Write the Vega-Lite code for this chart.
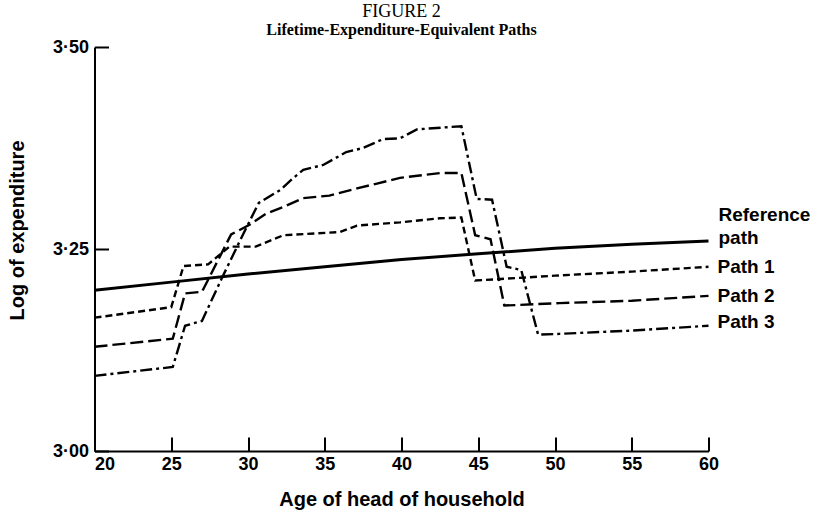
{
  "$schema": "https://vega.github.io/schema/vega-lite/v6.json",
  "width": 614,
  "height": 404,
  "autosize": {"type": "none"},
  "padding": {"left": 94.5, "top": 47, "right": 110.5, "bottom": 65},
  "background": "white",
  "config": {"view": {"stroke": null}, "font": "Liberation Sans"},
  "title": {
    "text": "FIGURE 2",
    "subtitle": "Lifetime-Expenditure-Equivalent Paths",
    "font": "Liberation Serif",
    "fontSize": 18,
    "fontWeight": "normal",
    "color": "black",
    "subtitleFont": "Liberation Serif",
    "subtitleFontSize": 16,
    "subtitleFontWeight": "bold",
    "subtitleColor": "black",
    "subtitlePadding": 1,
    "anchor": "middle",
    "offset": 0
  },
  "data": {
    "values": [
      {"series": "Reference", "age": 20, "value": 3.199},
      {"series": "Reference", "age": 25, "value": 3.209},
      {"series": "Reference", "age": 30, "value": 3.219},
      {"series": "Reference", "age": 35, "value": 3.228},
      {"series": "Reference", "age": 40, "value": 3.237},
      {"series": "Reference", "age": 45, "value": 3.244},
      {"series": "Reference", "age": 50, "value": 3.251},
      {"series": "Reference", "age": 55, "value": 3.256},
      {"series": "Reference", "age": 60, "value": 3.26},

      {"series": "Path 1", "age": 20, "value": 3.165},
      {"series": "Path 1", "age": 25, "value": 3.178},
      {"series": "Path 1", "age": 25.8, "value": 3.229},
      {"series": "Path 1", "age": 27.4, "value": 3.231},
      {"series": "Path 1", "age": 28.8, "value": 3.253},
      {"series": "Path 1", "age": 30.5, "value": 3.253},
      {"series": "Path 1", "age": 32.3, "value": 3.267},
      {"series": "Path 1", "age": 36.0, "value": 3.271},
      {"series": "Path 1", "age": 37.1, "value": 3.279},
      {"series": "Path 1", "age": 39.9, "value": 3.283},
      {"series": "Path 1", "age": 42.5, "value": 3.288},
      {"series": "Path 1", "age": 43.9, "value": 3.289},
      {"series": "Path 1", "age": 44.8, "value": 3.211},
      {"series": "Path 1", "age": 50, "value": 3.217},
      {"series": "Path 1", "age": 55, "value": 3.222},
      {"series": "Path 1", "age": 60, "value": 3.228},

      {"series": "Path 2", "age": 20, "value": 3.129},
      {"series": "Path 2", "age": 25.1, "value": 3.139},
      {"series": "Path 2", "age": 25.9, "value": 3.195},
      {"series": "Path 2", "age": 27.0, "value": 3.197},
      {"series": "Path 2", "age": 28.9, "value": 3.268},
      {"series": "Path 2", "age": 30.1, "value": 3.28},
      {"series": "Path 2", "age": 31.2, "value": 3.294},
      {"series": "Path 2", "age": 32.3, "value": 3.302},
      {"series": "Path 2", "age": 33.6, "value": 3.313},
      {"series": "Path 2", "age": 35.3, "value": 3.316},
      {"series": "Path 2", "age": 37.1, "value": 3.325},
      {"series": "Path 2", "age": 38.4, "value": 3.331},
      {"series": "Path 2", "age": 39.9, "value": 3.338},
      {"series": "Path 2", "age": 42.5, "value": 3.344},
      {"series": "Path 2", "age": 43.9, "value": 3.344},
      {"series": "Path 2", "age": 44.8, "value": 3.267},
      {"series": "Path 2", "age": 45.8, "value": 3.262},
      {"series": "Path 2", "age": 46.7, "value": 3.18},
      {"series": "Path 2", "age": 50.3, "value": 3.183},
      {"series": "Path 2", "age": 55, "value": 3.186},
      {"series": "Path 2", "age": 60, "value": 3.192},

      {"series": "Path 3", "age": 20, "value": 3.093},
      {"series": "Path 3", "age": 25.1, "value": 3.104},
      {"series": "Path 3", "age": 25.9, "value": 3.155},
      {"series": "Path 3", "age": 27.0, "value": 3.161},
      {"series": "Path 3", "age": 28.3, "value": 3.214},
      {"series": "Path 3", "age": 29.7, "value": 3.269},
      {"series": "Path 3", "age": 30.7, "value": 3.307},
      {"series": "Path 3", "age": 32.1, "value": 3.323},
      {"series": "Path 3", "age": 32.9, "value": 3.337},
      {"series": "Path 3", "age": 33.6, "value": 3.348},
      {"series": "Path 3", "age": 34.9, "value": 3.354},
      {"series": "Path 3", "age": 36.4, "value": 3.37},
      {"series": "Path 3", "age": 37.5, "value": 3.375},
      {"series": "Path 3", "age": 38.8, "value": 3.386},
      {"series": "Path 3", "age": 39.9, "value": 3.387},
      {"series": "Path 3", "age": 41.0, "value": 3.398},
      {"series": "Path 3", "age": 43.9, "value": 3.402},
      {"series": "Path 3", "age": 44.9, "value": 3.312},
      {"series": "Path 3", "age": 45.9, "value": 3.311},
      {"series": "Path 3", "age": 46.85, "value": 3.228},
      {"series": "Path 3", "age": 47.8, "value": 3.224},
      {"series": "Path 3", "age": 48.9, "value": 3.144},
      {"series": "Path 3", "age": 50.3, "value": 3.145},
      {"series": "Path 3", "age": 55, "value": 3.149},
      {"series": "Path 3", "age": 60, "value": 3.155}
    ]
  },
  "encoding": {
    "x": {
      "field": "age",
      "type": "quantitative",
      "scale": {"domain": [20, 60], "nice": false, "zero": false},
      "axis": {
        "title": "Age of head of household",
        "values": [20, 25, 30, 35, 40, 45, 50, 55, 60],
        "grid": false,
        "domainColor": "black",
        "domainWidth": 2,
        "tickColor": "black",
        "tickWidth": 2,
        "tickSize": -14,
        "labelPadding": 18,
        "labelFontSize": 18,
        "labelFontWeight": "bold",
        "labelColor": "black",
        "labelAlign": {"condition": {"test": "datum.value == 20", "value": "left"}, "value": "center"},
        "titleFontSize": 20,
        "titleFontWeight": "bold",
        "titleColor": "black",
        "titlePadding": 16
      }
    },
    "y": {
      "field": "value",
      "type": "quantitative",
      "scale": {"domain": [3.0, 3.5], "nice": false, "zero": false},
      "axis": {
        "title": "Log of expenditure",
        "values": [3.0, 3.25, 3.5],
        "labelExpr": "replace(format(datum.value, '.2f'), '.', '·')",
        "grid": false,
        "domainColor": "black",
        "domainWidth": 2,
        "tickColor": "black",
        "tickWidth": 2,
        "tickSize": -14,
        "labelPadding": 20,
        "labelFontSize": 18,
        "labelFontWeight": "bold",
        "labelColor": "black",
        "titleFontSize": 20,
        "titleFontWeight": "bold",
        "titleColor": "black",
        "titleX": -77,
        "titleY": 183,
        "titleBaseline": "middle",
        "titleAlign": "center"
      }
    }
  },
  "layer": [
    {
      "transform": [{"filter": "datum.series == 'Reference'"}],
      "mark": {"type": "line", "color": "black", "strokeWidth": 3}
    },
    {
      "transform": [{"filter": "datum.series != 'Reference'"}],
      "mark": {"type": "line", "color": "black", "strokeWidth": 2.4},
      "encoding": {
        "strokeDash": {
          "field": "series",
          "type": "nominal",
          "scale": {"domain": ["Path 1", "Path 2", "Path 3"], "range": [[7, 4], [13, 5], [12, 4, 3, 4]]},
          "legend": null
        }
      }
    },
    {
      "transform": [{"filter": "datum.series == 'Reference' && datum.age == 60"}],
      "mark": {"type": "text", "align": "left", "baseline": "middle", "dx": 10, "dy": -26, "fontSize": 19, "fontWeight": "bold", "lineBreak": "\n", "lineHeight": 23, "color": "black", "text": "Reference\npath"}
    },
    {
      "transform": [{"filter": "(datum.series == 'Path 1' || datum.series == 'Path 2') && datum.age == 60"}],
      "mark": {"type": "text", "align": "left", "baseline": "middle", "dx": 9, "fontSize": 19, "fontWeight": "bold", "color": "black"},
      "encoding": {"text": {"field": "series"}}
    },
    {
      "transform": [{"filter": "datum.series == 'Path 3' && datum.age == 60"}],
      "mark": {"type": "text", "align": "left", "baseline": "middle", "dx": 9, "dy": -4, "fontSize": 19, "fontWeight": "bold", "color": "black"},
      "encoding": {"text": {"field": "series"}}
    }
  ]
}
